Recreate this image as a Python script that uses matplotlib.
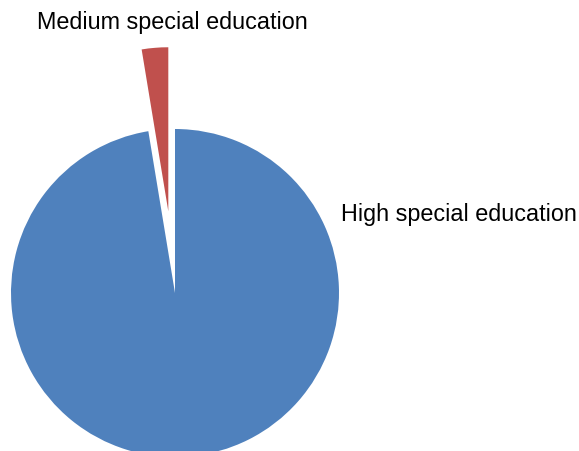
import matplotlib
matplotlib.use('Agg')
from matplotlib import pyplot as plt

labels = ["High special education", "Medium special education"]
values = [97.4, 2.6]
colors = ['#4F81BD', '#C0504D']
explode_frac = [0, 0.5]

plt.rcParams['font.family'] = ['Liberation Sans', 'DejaVu Sans']

fig = plt.figure(figsize=(5.79, 4.52), dpi=100)
ax = fig.add_axes([0, 0, 1, 1])

# pie drawn in pixel-like data units; explode is absolute, so scale by radius
radius = 164
ax.pie(values, colors=colors, explode=[e * radius for e in explode_frac],
       startangle=90, counterclock=False,
       center=(175, 158), radius=radius, wedgeprops=dict(linewidth=0))
ax.set_xlim(0, 579)
ax.set_ylim(0, 452)
ax.set_aspect('equal')
ax.axis('off')

ax.text(341, 237, labels[0], fontsize=16.8, va='center', ha='left')
ax.text(37, 430, labels[1], fontsize=16.8, va='center', ha='left')

plt.savefig('out.png', dpi=100)
plt.close()
